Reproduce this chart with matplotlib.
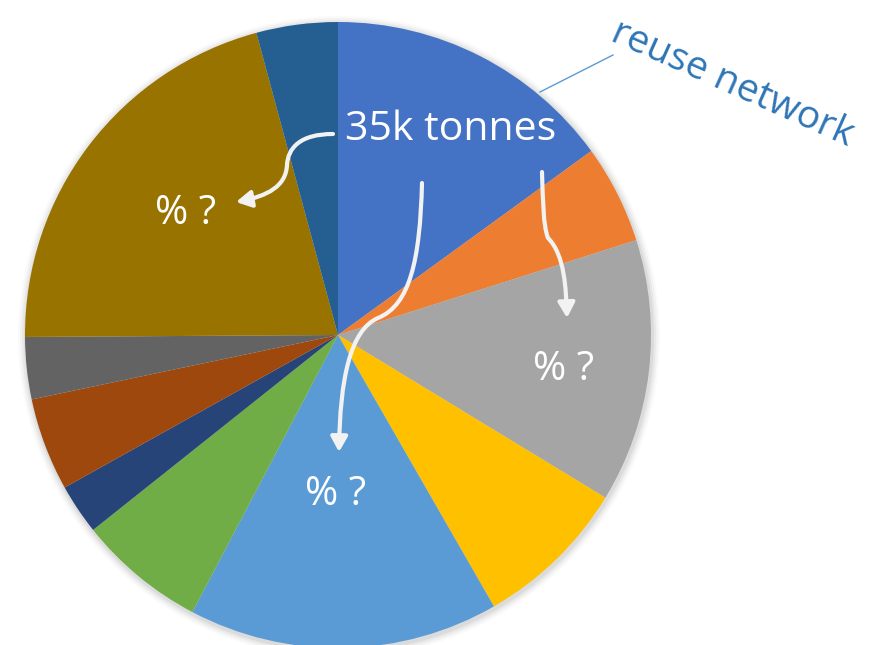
import matplotlib.pyplot as plt
from matplotlib.patches import FancyArrowPatch
from matplotlib.path import Path

# slice shares in percent, clockwise from 12 o'clock
shares = [15.0, 5.1, 13.6, 8.0, 16.0, 6.6, 2.6, 4.8, 3.2, 20.9, 4.2]
colors = ["#4472C4", "#ED7D31", "#A5A5A5", "#FFC000", "#5B9BD5", "#70AD47",
          "#264478", "#9E480E", "#636363", "#997300", "#255E91"]

W, H = 887, 645
fig = plt.figure(figsize=(W / 100, H / 100), dpi=100)
ax = fig.add_axes([0, 0, 1, 1])

cx, cy, r = 338, H - 335, 313

# soft shadow round the pie
for i, a in enumerate([0.05, 0.04, 0.03, 0.02]):
    ax.add_patch(plt.Circle((cx + 1, cy - 2), r + 2 + 2 * i, color="black",
                            alpha=a, lw=0, zorder=0))

ax.pie(shares, colors=colors, startangle=90, counterclock=False,
       center=(cx, cy), radius=r, frame=True,
       wedgeprops=dict(linewidth=0))
ax.set_xlim(0, W)
ax.set_ylim(0, H)
ax.set_aspect("equal")
ax.axis("off")

font = "Open Sans"
ax.text(451, H - 130, "35k tonnes", color="white", fontsize=29.5, family=font,
        ha="center", va="center")
ax.text(186, H - 214, "% ?", color="white", fontsize=29, family=font,
        ha="center", va="center")
ax.text(564, H - 370, "% ?", color="white", fontsize=29, family=font,
        ha="center", va="center")
ax.text(336, H - 495, "% ?", color="white", fontsize=29, family=font,
        ha="center", va="center")

ax.text(732, H - 84, "reuse network", color="#2E75B6", fontsize=28,
        family=font, rotation=-24, ha="center", va="center",
        rotation_mode="anchor")
ax.plot([540, 613], [H - 92, H - 55], color="#5B9BD5", lw=1)


def curve(pts, codes):
    p = Path([(x, H - y) for x, y in pts], codes)
    ax.add_patch(FancyArrowPatch(path=p, arrowstyle="-|>,head_length=9,head_width=5",
                                 color="#F2F2F2", lw=3, zorder=5))


C = Path.CURVE4
curve([(333, 134), (300, 134), (288, 148), (287, 165),
       (286, 186), (268, 196), (236, 202)],
      [Path.MOVETO, C, C, C, C, C, C])
curve([(422, 183), (420, 260), (410, 305), (378, 318),
       (350, 330), (340, 380), (339, 452)],
      [Path.MOVETO, C, C, C, C, C, C])
curve([(542, 172), (543, 200), (543, 225), (548, 238),
       (565, 255), (566, 290), (567, 318)],
      [Path.MOVETO, C, C, C, C, C, C])

fig.savefig("out.png", dpi=100)
